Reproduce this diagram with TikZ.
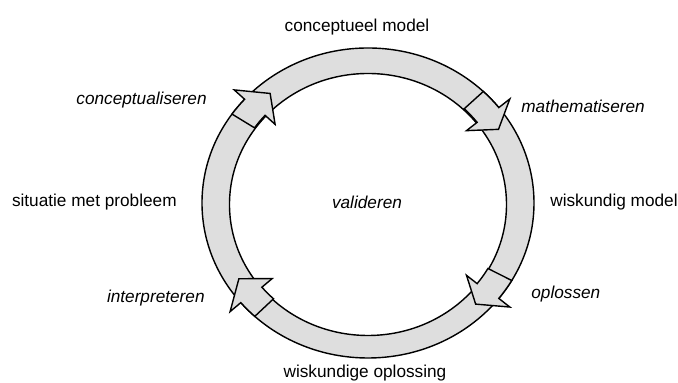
\documentclass[tikz,border=0pt]{standalone}
\usepackage{fontspec}
\setmainfont{Liberation Sans}
\usepackage{tikz}

\begin{document}
\begin{tikzpicture}[font=\fontsize{9.8}{12}\selectfont, inner sep=0pt,
  band/.style={draw, line width=0.8pt, fill=black!13},
  stage/.style={}, act/.style={font=\fontsize{9.8}{12}\selectfont\itshape}]
\useasboundingbox (-7.36,-3.6) rectangle (6.2,4.06);
\filldraw[band, even odd rule] (0,0) ellipse[x radius=3.32, y radius=3.1] (0,-0.03) ellipse[x radius=2.77, y radius=2.62];
\filldraw[band] (145:3.32 and 3.1) arc[start angle=145, end angle=138, x radius=3.32, y radius=3.1] -- (138:3.6 and 3.38) -- (130:3.045 and 2.86) -- (138:2.5 and 2.35) -- (138:2.77 and 2.62) arc[start angle=138, end angle=145, x radius=2.77, y radius=2.62] -- cycle;
\filldraw[band] (46:3.32 and 3.1) arc[start angle=46, end angle=38, x radius=3.32, y radius=3.1] -- (38:3.6 and 3.38) -- (31:3.045 and 2.86) -- (38:2.5 and 2.35) -- (38:2.77 and 2.62) arc[start angle=38, end angle=46, x radius=2.77, y radius=2.62] -- cycle;
\filldraw[band] (-30:3.32 and 3.1) arc[start angle=-30, end angle=-38, x radius=3.32, y radius=3.1] -- (-38:3.6 and 3.38) -- (-45:3.045 and 2.86) -- (-38:2.5 and 2.35) -- (-38:2.77 and 2.62) arc[start angle=-38, end angle=-30, x radius=2.77, y radius=2.62] -- cycle;
\filldraw[band] (227:3.32 and 3.1) arc[start angle=227, end angle=220, x radius=3.32, y radius=3.1] -- (220:3.6 and 3.38) -- (212:3.045 and 2.86) -- (220:2.5 and 2.35) -- (220:2.77 and 2.62) arc[start angle=220, end angle=227, x radius=2.77, y radius=2.62] -- cycle;
\node[stage] (cmodel) at (-0.22,3.52) {conceptueel model};
\node[act, anchor=east] (concept) at (-3.22,2.06) {conceptualiseren};
\node[act, anchor=west] (math) at (3.06,1.94) {mathematiseren};
\node[stage, anchor=east] (situatie) at (-3.82,0.02) {situatie met probleem};
\node[act] (valid) at (-0.02,0.02) {valideren};
\node[stage, anchor=west] (wmodel) at (3.64,0.02) {wiskundig model};
\node[act, anchor=east] (interp) at (-3.26,-1.9) {interpreteren};
\node[act, anchor=west] (oplos) at (3.26,-1.82) {oplossen};
\node[stage] (wopl) at (-0.06,-3.4) {wiskundige oplossing};
\end{tikzpicture}
\end{document}
